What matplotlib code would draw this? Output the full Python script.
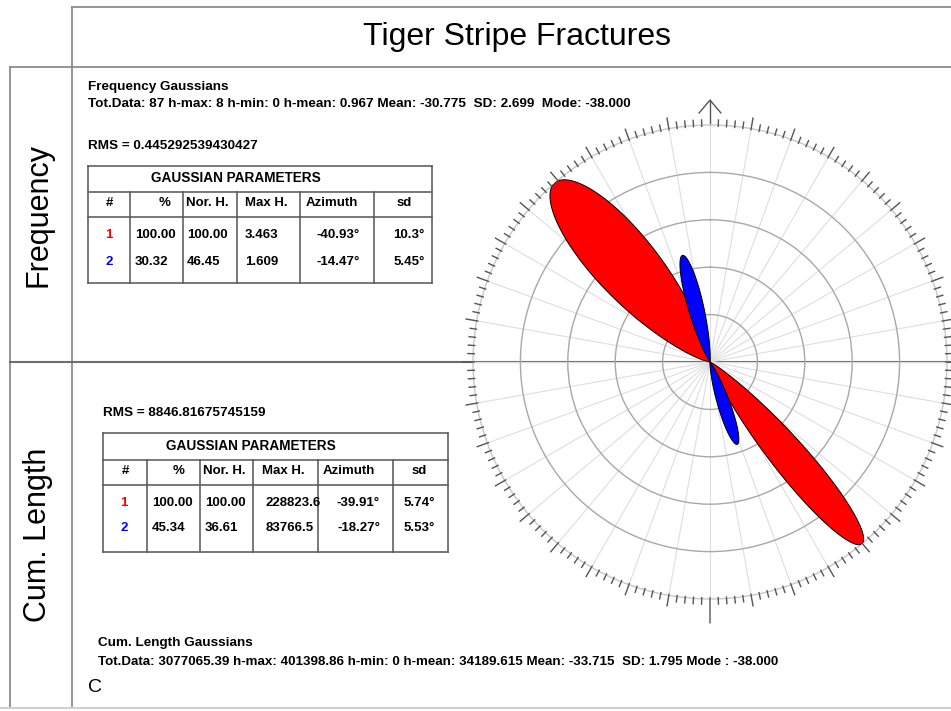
import numpy as np
import matplotlib
matplotlib.use('Agg')
import matplotlib.pyplot as plt

plt.rcParams['font.family'] = ['Liberation Sans', 'DejaVu Sans']

# chart data
title = 'Tiger Stripe Fractures'
row_labels = ['Frequency', 'Cum. Length']
table_title = 'GAUSSIAN PARAMETERS'
table_cols = ['#', '%', 'Nor. H.', 'Max H.', 'Azimuth', 'sd']
comp_ids = ['1', '2']
comp_colors = ['#ff0000', '#0000ff']

# frequency gaussians
freq_pct = [100.00, 30.32]
freq_norh = [100.00, 46.45]
freq_maxh = [3.463, 1.609]
freq_azi = [-40.93, -14.47]
freq_sd = [10.3, 5.45]
freq_rms = '0.445292539430427'
freq_head = 'Frequency Gaussians'
freq_stats = ('Tot.Data: 87 h-max: 8 h-min: 0 h-mean: 0.967 Mean: -30.775  '
              'SD: 2.699  Mode: -38.000')

# cumulative length gaussians
cum_pct = [100.00, 45.34]
cum_norh = [100.00, 36.61]
cum_maxh = [228823.6, 83766.5]
cum_azi = [-39.91, -18.27]
cum_sd = [5.74, 5.53]
cum_rms = '8846.81675745159'
cum_head = 'Cum. Length Gaussians'
cum_stats = ('Tot.Data: 3077065.39 h-max: 401398.86 h-min: 0 h-mean: 34189.615 '
             'Mean: -33.715  SD: 1.795 Mode : -38.000')
panel_letter = 'C'

W, H = 951, 711
fig = plt.figure(figsize=(W / 100, H / 100), dpi=100)
ax = fig.add_axes([0, 0, 1, 1])
ax.set_xlim(0, W)
ax.set_ylim(H, 0)
ax.axis('off')

# frame of the panel
frame = '#8c8c8c'
ax.plot([72, W], [7, 7], color=frame, lw=1.3)
ax.plot([72, 72], [7, 708], color=frame, lw=1.3)
ax.plot([10, W], [67, 67], color=frame, lw=1.3)
ax.plot([10, 10], [67, 708], color=frame, lw=1.3)
ax.plot([10, W], [362, 362], color='#6e6e6e', lw=1.5)
ax.plot([0, W], [708, 708], color='#d0d0d0', lw=1.5)

ax.text(517, 37, title, fontsize=23, ha='center', va='center')
ax.text(38, 215, row_labels[0], fontsize=22, rotation=90, ha='center', va='center')
ax.text(38, 535, row_labels[1], fontsize=22, rotation=90, ha='center', va='center')

# stats text
ax.text(88, 87, freq_head, fontsize=9.7, fontweight='bold', va='center')
ax.text(88, 104, freq_stats, fontsize=9.7, fontweight='bold', va='center')
ax.text(88, 146, 'RMS = ' + freq_rms, fontsize=9.7, fontweight='bold', va='center')
ax.text(103, 413, 'RMS = ' + cum_rms, fontsize=9.7, fontweight='bold', va='center')
ax.text(98, 643, cum_head, fontsize=9.7, fontweight='bold', va='center')
ax.text(98, 662, cum_stats, fontsize=9.6, fontweight='bold', va='center')
ax.text(88, 688, panel_letter, fontsize=14, va='center')


def draw_table(cols_x, rows_y, text_y, pct, norh, maxh, azi, sd, maxfmt, pos):
    lc = '#555555'
    x0, x1 = cols_x[0], cols_x[-1]
    for y in rows_y:
        ax.plot([x0, x1], [y, y], color=lc, lw=1.1)
    ax.plot([x0, x0], [rows_y[0], rows_y[-1]], color=lc, lw=1.1)
    ax.plot([x1, x1], [rows_y[0], rows_y[-1]], color=lc, lw=1.1)
    for x in cols_x[1:-1]:
        ax.plot([x, x], [rows_y[1], rows_y[-1]], color=lc, lw=1.1)
    kw = dict(fontsize=9.5, fontweight='bold', va='center')
    ax.text(x0 + 63, text_y[0], table_title, ha='left', fontsize=9.8,
            fontweight='bold', va='center')
    # column headers
    hx, ha = pos['head']
    for name, x, a in zip(table_cols, hx, ha):
        ax.text(x, text_y[1], name, ha=a, **kw)
    dx, da = pos['data']
    for i in range(len(comp_ids)):
        vals = [comp_ids[i], f'{pct[i]:.2f}', f'{norh[i]:.2f}',
                maxfmt.format(maxh[i]), f'{azi[i]:.2f}°', f'{sd[i]}°']
        for j, (v, x, a) in enumerate(zip(vals, dx, da)):
            c = comp_colors[i] if j == 0 else 'black'
            ax.text(x, text_y[2 + i], v, ha=a, color=c, **kw)


draw_table([88, 130, 183, 237, 300, 374, 432], [166, 192, 217, 283],
           [178, 203, 235, 262],
           freq_pct, freq_norh, freq_maxh, freq_azi, freq_sd, '{:.3f}',
           {'head': ([109, 165, 186, 245, 306, 404],
                     ['center', 'center', 'left', 'left', 'left', 'center']),
            'data': ([109, 135, 187, 245, 360, 425],
                     ['center', 'left', 'left', 'left', 'right', 'right'])})

draw_table([103, 147, 200, 253, 318, 393, 448], [433, 460, 485, 552],
           [446, 471, 503, 528],
           cum_pct, cum_norh, cum_maxh, cum_azi, cum_sd, '{:.1f}',
           {'head': ([125, 179, 203, 262, 323, 419],
                     ['center', 'center', 'left', 'left', 'left', 'center']),
            'data': ([124, 152, 205, 266, 380, 435],
                     ['center', 'left', 'left', 'left', 'right', 'right'])})

# rose diagram
cx, cy, R = 710, 362, 237
pax = fig.add_axes([(cx - R) / W, (H - cy - R) / H, 2 * R / W, 2 * R / H],
                   projection='polar')
pax.patch.set_alpha(0)
pax.set_theta_zero_location('N')
pax.set_theta_direction(-1)
pax.set_ylim(0, 1)
pax.set_thetagrids(range(0, 360, 10), labels=[])
pax.set_rgrids([0.2, 0.4, 0.6, 0.8], labels=[])
pax.tick_params(length=0)
pax.xaxis.grid(True, color='#dedede', lw=0.8)
pax.yaxis.grid(True, color='#a8a8a8', lw=1.0)
pax.spines['polar'].set_color('#c8c8c8')
pax.spines['polar'].set_linewidth(1.0)

spread = 1.25  # petal angular spread relative to sd


def petals(norh, azi, sd, offset):
    for h, mu, s, c in zip(norh, azi, sd, comp_colors):
        s = s * spread
        d = np.linspace(-4 * s, 4 * s, 400)
        r = h / 100 * np.exp(-0.5 * (d / s) ** 2)
        th = np.radians(mu + offset + d)
        pax.fill(np.append(th, 0), np.append(r, 0), fc=c, ec='black',
                 lw=0.7, zorder=3)


petals(freq_norh, freq_azi, freq_sd, 0)
petals(cum_norh, cum_azi, cum_sd, 180)

# graduation ticks around the rose
deg = np.arange(0, 360, 2)
tx, ty = [], []
for d in deg:
    if d == 0:
        continue
    if d == 180:
        ln = 0.1
    elif d % 10 == 0:
        ln = 0.045
    else:
        ln = 0.022
    tx += [np.radians(d), np.radians(d), np.nan]
    ty += [0.995, 1.0 + ln, np.nan]
pax.plot(tx, ty, color='#555555', lw=1.0, clip_on=False, zorder=4)
# north arrow
pax.plot([0, 0], [1.0, 1.105], color='#555555', lw=1.0, clip_on=False)
pax.plot([np.radians(-2.5), 0, np.radians(2.5)], [1.052, 1.105, 1.052],
         color='#555555', lw=1.0, clip_on=False)

fig.savefig('out.png', dpi=100)
